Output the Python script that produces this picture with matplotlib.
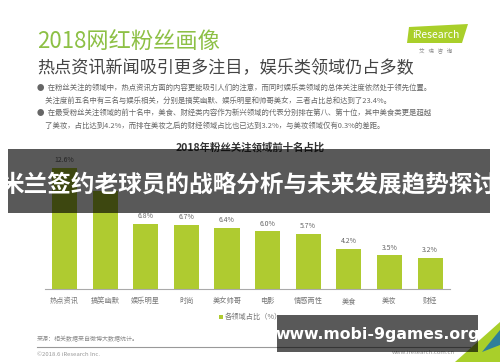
import matplotlib
matplotlib.use("Agg")
import matplotlib.pyplot as plt
from matplotlib.patches import Rectangle, Polygon

plt.rcParams['font.family'] = ['Noto Sans CJK SC', 'DejaVu Sans']

# data
categories = ['热点资讯', '搞笑幽默', '娱乐明星', '时尚', '美女帅哥',
              '电影', '情感两性', '美食', '美妆', '财经']
shares = [12.6, 10.2, 6.8, 6.7, 6.4, 6.0, 5.7, 4.2, 3.5, 3.2]
labels = ['12.6%', '', '6.8%', '6.7%', '6.4%', '6.0%', '5.7%', '4.2%', '3.5%', '3.2%']

bullets = [
    '●  在粉丝关注的领域中，热点资讯方面的内容更能吸引人们的注意，而同时娱乐类领域的总体关注度依然处于领先位置。',
    '     关注度前五名中有三名与娱乐相关，分别是搞笑幽默、娱乐明星和帅哥美女，三者占比总和达到了23.4%。',
    '●  在最受粉丝关注领域的前十名中，美食、财经类内容作为新兴领域的代表分别排在第八、第十位，其中美食类更是超越',
    '     了美妆，占比达到4.2%，而排在美妆之后的财经领域占比也已达到3.2%，与美妆领域仅有0.3%的差距。',
]

W, H = 500, 362
fig = plt.figure(figsize=(5, 3.62), dpi=100)
fig.patch.set_facecolor('white')

def fx(x):
    return x / W

def fy(y):
    return 1 - y / H

green = '#afcb30'

# headings
fig.text(fx(37), fy(41), '2018网红粉丝画像', color='#8dc045', fontsize=16,
         va='center', ha='left')
fig.text(fx(37), fy(68), '热点资讯新闻吸引更多注目，娱乐类领域仍占多数', color='#444444',
         fontsize=12.3, va='center', ha='left')
for i, line in enumerate(bullets):
    fig.text(fx(37), fy(88 + i * 12.5), line, color='#666666', fontsize=5.35,
             va='center', ha='left')

# logo
fig.patches.append(Polygon([[fx(409), fy(27)], [fx(468), fy(24)], [fx(462), fy(43)], [fx(407), fy(43)]],
                           closed=True, transform=fig.transFigure, facecolor='#a9cf2a',
                           edgecolor='none'))
fig.text(fx(436), fy(35), 'iResearch', color='white', fontsize=7.5, ha='center', va='center')
fig.text(fx(436), fy(50), '艾   瑞   咨   询', color='#888888', fontsize=4, ha='center', va='center')

# chart
fig.text(fx(250), fy(147), '2018年粉丝关注领域前十名占比', color='#333333', fontsize=7.5,
         fontweight='bold', ha='center', va='center')

ax = fig.add_axes([fx(45), fy(289), fx(405), 134.4 / H])
x = range(len(categories))
ax.bar(x, shares, width=0.62, color=green, zorder=2)
for xi, v, lab in zip(x, shares, labels):
    ax.text(xi, v + 0.4, lab, ha='center', va='bottom', fontsize=5, color='#666666')
ax.set_xlim(-0.48, 9.49)
ax.set_ylim(0, 14)
ax.set_xticks(list(x))
ax.set_xticklabels(categories, fontsize=5.2, color='#777777')
ax.tick_params(axis='x', length=0, pad=6)
ax.set_yticks([])
for s in ['top', 'right', 'left']:
    ax.spines[s].set_visible(False)
ax.spines['bottom'].set_color('#aaaaaa')
ax.spines['bottom'].set_linewidth(0.8)
ax.patch.set_alpha(0)

# legend
fig.patches.append(Rectangle((fx(219), fy(318.5)), fx(4), 4 / H, transform=fig.transFigure,
                             facecolor=green, edgecolor='none'))
fig.text(fx(225), fy(316.5), '各领域占比（%）', fontsize=5.2, color='#777777', va='center', ha='left')

# footer
fig.text(fx(37), fy(339), '来源：相关数据来自微博大数据统计。', fontsize=4.3, color='#888888',
         va='center', ha='left')
fig.add_artist(plt.Line2D([fx(37), fx(470)], [fy(347), fy(347)], color='#999999', lw=0.8))
fig.text(fx(37), fy(354), '©2018.6 iResearch Inc.', fontsize=4.3, color='#999999',
         va='center', ha='left')
fig.text(fx(455), fy(352), 'www.iresearch.com.cn', fontsize=4.3, color='#999999',
         va='center', ha='right')
fig.patches.append(Polygon([[fx(500), fy(322)], [fx(500), fy(362)], [fx(455), fy(362)]],
                           closed=True, transform=fig.transFigure, facecolor='#a9cf2a',
                           edgecolor='none'))
fig.patches.append(Polygon([[fx(500), fy(330)], [fx(500), fy(345)], [fx(482), fy(352)]],
                           closed=True, transform=fig.transFigure, facecolor='#2e7f9a',
                           edgecolor='none'))

# overlay band and title
fig.patches.append(Rectangle((fx(8), fy(213)), fx(482), 64 / H, transform=fig.transFigure,
                             facecolor='black', alpha=0.65, edgecolor='none', zorder=5))
fig.text(fx(249), fy(184), '米兰签约老球员的战略分析与未来发展趋势探讨', color='white',
         fontsize=17, fontweight='bold', ha='center', va='center', zorder=6)

# watermark box
fig.patches.append(Rectangle((fx(277), fy(352)), fx(201), 37 / H, transform=fig.transFigure,
                             facecolor='black', alpha=0.65, edgecolor='none', zorder=5))
fig.text(fx(378), fy(334), 'www.mobi-9games.org', color='white', fontsize=11.3,
         fontweight='bold', ha='center', va='center', zorder=6, family='DejaVu Sans')

fig.savefig('out.png', dpi=100)
